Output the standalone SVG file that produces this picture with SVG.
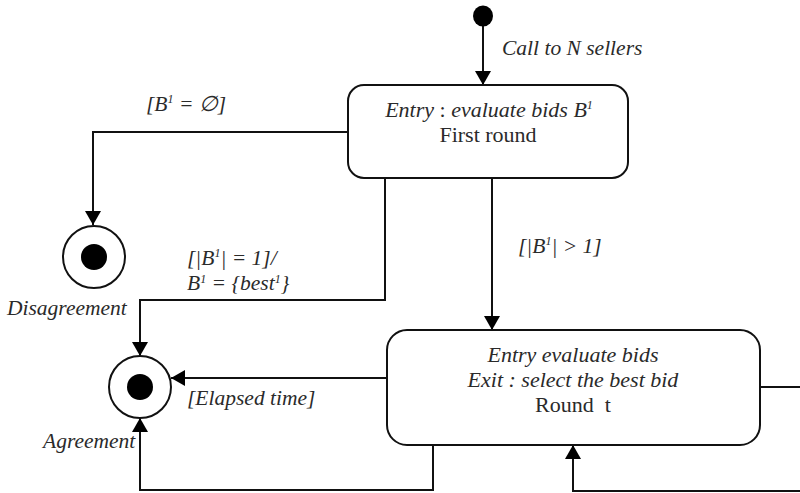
<svg xmlns="http://www.w3.org/2000/svg" width="800" height="493" viewBox="0 0 800 493">
<defs>
<marker id="arr" markerUnits="userSpaceOnUse" markerWidth="16" markerHeight="18" refX="14" refY="8" orient="auto">
<path d="M0,0 L14,8 L0,16 z" fill="#000"/>
</marker>
<style>
.box{fill:#fff;stroke:#111;stroke-width:2}
.ln{fill:none;stroke:#111;stroke-width:2;marker-end:url(#arr)}
.pl{fill:none;stroke:#111;stroke-width:2}
text{font-family:"Liberation Serif","Times New Roman",serif;font-size:21.5px;fill:#2a2a2a}
.bx{font-size:22px}
.it{font-style:italic}
.c{text-anchor:middle}
.sup{font-size:12px}
</style>
</defs>
<rect width="800" height="493" fill="#fff"/>
<g id="connectors">
<path class="ln" d="M483,26 L483,85"/>
<path class="ln" d="M348,132 L93,132 L93,225"/>
<path class="ln" d="M385,178 L385,300 L140,300 L140,356"/>
<path class="ln" d="M492,178 L492,330"/>
<path class="ln" d="M387,378 L171,378"/>
<path class="ln" d="M433,445 L433,490 L140,490 L140,418"/>
<path class="pl" d="M760,387 L800,387"/>
<path class="ln" d="M800,491 L573,491 L573,445"/>
</g>
<g id="start">
<ellipse cx="483" cy="16" rx="10" ry="10.5" fill="#000"/>
</g>
<g id="first-round">
<rect class="box" x="348" y="85" width="280" height="93" rx="16"/>
<text class="c bx" x="489" y="117"><tspan class="it">Entry</tspan> : <tspan class="it">evaluate bids B<tspan class="sup" dy="-8">1</tspan></tspan></text>
<text class="c bx" x="488" y="142">First round</text>
</g>
<g id="round-t">
<rect class="box" x="387" y="330" width="373" height="115" rx="20"/>
<text class="c it bx" x="573" y="362">Entry evaluate bids</text>
<text class="c it bx" x="573" y="387">Exit : select the best bid</text>
<text class="c bx" x="573" y="412">Round&#160; t</text>
</g>
<g id="disagreement">
<circle cx="94" cy="257" r="31" fill="#fff" stroke="#111" stroke-width="2"/>
<circle cx="94" cy="257" r="13" fill="#000"/>
<text class="it" x="7" y="315">Disagreement</text>
</g>
<g id="agreement">
<circle cx="140" cy="387" r="31" fill="#fff" stroke="#111" stroke-width="2"/>
<circle cx="140" cy="387" r="13" fill="#000"/>
<text class="it" x="43" y="448">Agreement</text>
</g>
<g id="labels">
<text class="it" x="502" y="55">Call to N sellers</text>
<text class="it" x="146" y="111">[B<tspan class="sup" dy="-8">1</tspan><tspan dy="8"> = ∅]</tspan></text>
<text class="it" x="187" y="265">[|B<tspan class="sup" dy="-8">1</tspan><tspan dy="8">| = 1]/</tspan></text>
<text class="it" x="187" y="290">B<tspan class="sup" dy="-7">1</tspan><tspan dy="7"> = {best</tspan><tspan class="sup" dy="-7">1</tspan><tspan dy="7">}</tspan></text>
<text class="it" x="518" y="253">[|B<tspan class="sup" dy="-8">1</tspan><tspan dy="8">| &gt; 1]</tspan></text>
<text class="it" x="187" y="405">[Elapsed time]</text>
</g>
</svg>
